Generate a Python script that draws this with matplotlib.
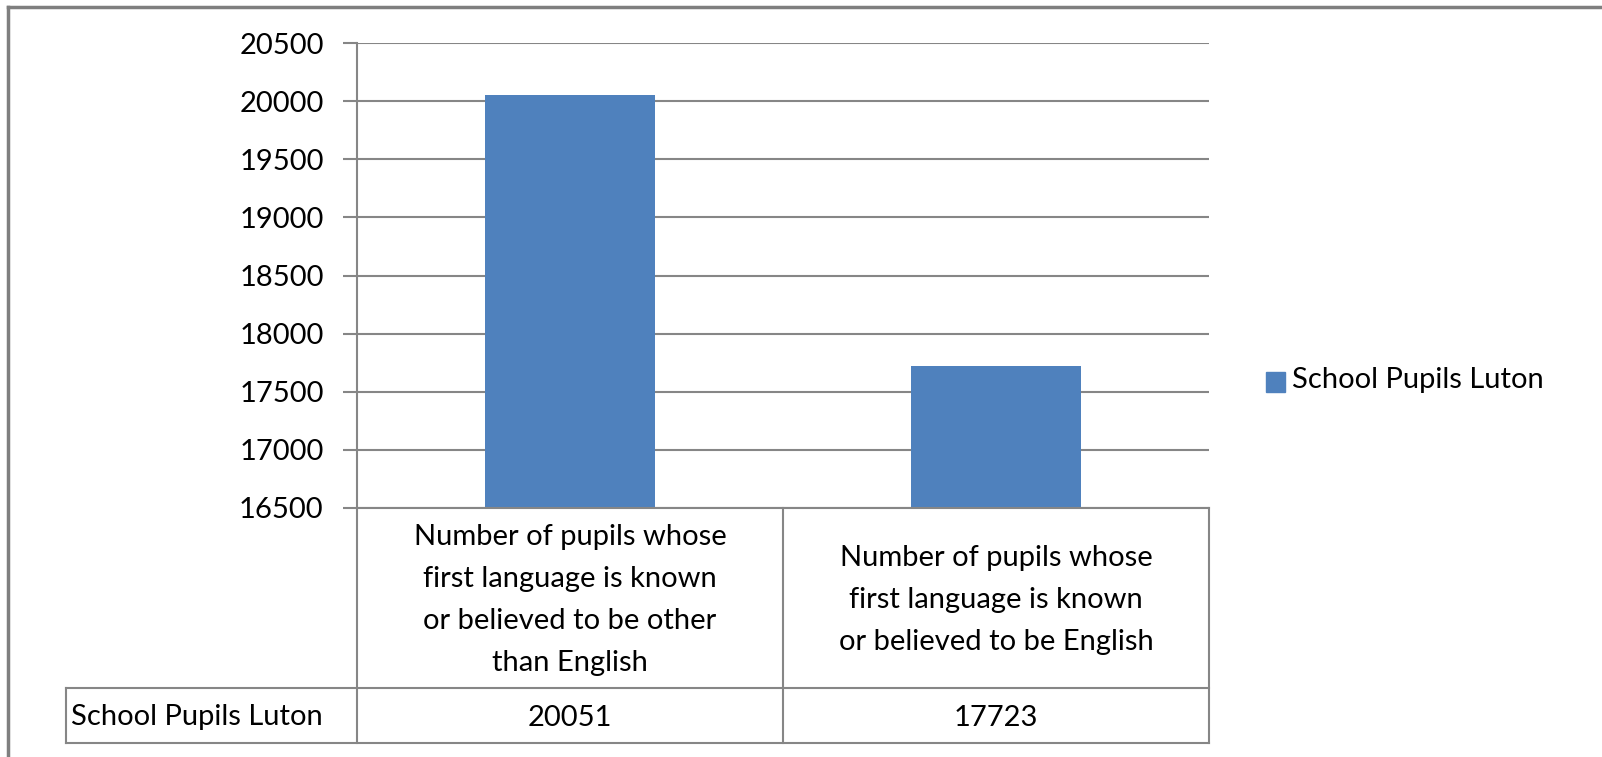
import matplotlib.pyplot as plt
from matplotlib.lines import Line2D
from matplotlib.patches import Rectangle

# --- data ---
categories = [
    "Number of pupils whose\nfirst language is known\nor believed to be other\nthan English",
    "Number of pupils whose\nfirst language is known\nor believed to be English",
]
values = [20051, 17723]
series_name = "School Pupils Luton"
y_ticks = [16500, 17000, 17500, 18000, 18500, 19000, 19500, 20000, 20500]

BAR_COLOR = "#4F81BD"
GRID_COLOR = "#868686"
FONT = "Lato"
FS = 21

W, H = 1602, 757
fig = plt.figure(figsize=(W / 100, H / 100), dpi=100)

# plot area in pixels (left, top, right, bottom)
L, T, R, B = 357, 43, 1209, 508
ax = fig.add_axes([L / W, 1 - B / H, (R - L) / W, (B - T) / H])

x = list(range(len(categories)))
ax.bar(x, values, width=0.4, color=BAR_COLOR, zorder=3)
ax.set_xlim(-0.5, len(categories) - 0.5)
ax.set_ylim(y_ticks[0], y_ticks[-1])
ax.set_yticks(y_ticks)
ax.set_yticklabels([str(v) for v in y_ticks], fontsize=FS, family=FONT)
ax.set_xticks([])
ax.grid(axis="y", color=GRID_COLOR, linewidth=1.5, zorder=0)
ax.tick_params(axis="y", length=10, width=1.5, color=GRID_COLOR, pad=14)
for s in ["top", "right", "bottom"]:
    ax.spines[s].set_visible(False)
ax.spines["left"].set_color(GRID_COLOR)
ax.spines["left"].set_linewidth(1.5)

# --- overlay in pixel coordinates for table, legend and frame ---
ov = fig.add_axes([0, 0, 1, 1])
ov.set_xlim(0, W)
ov.set_ylim(H, 0)
ov.axis("off")
ov.set_zorder(5)
ov.patch.set_alpha(0)

row1_bot, row2_bot, label_left = 688, 743, 66
col_edges = [L + (R - L) * i / len(categories) for i in range(len(categories) + 1)]

def hline(x0, x1, y, c=GRID_COLOR, lw=1.5):
    ov.add_line(Line2D([x0, x1], [y, y], color=c, linewidth=lw))

def vline(x0, y0, y1, c=GRID_COLOR, lw=1.5):
    ov.add_line(Line2D([x0, x0], [y0, y1], color=c, linewidth=lw))

# table grid
hline(L, R, B)
hline(label_left, R, row1_bot)
hline(label_left, R, row2_bot)
vline(L, B, row2_bot)
vline(label_left, row1_bot, row2_bot)
for xe in col_edges[1:]:
    vline(xe, B, row2_bot)

# category labels and values
for i, (cat, val) in enumerate(zip(categories, values)):
    cx = (col_edges[i] + col_edges[i + 1]) / 2
    ov.text(cx, (B + row1_bot) / 2 + 2, cat, ha="center", va="center",
            fontsize=FS, family=FONT, linespacing=1.75)
    ov.text(cx, (row1_bot + row2_bot) / 2 + 2, str(val), ha="center", va="center",
            fontsize=FS, family=FONT)
ov.text(label_left + 5, (row1_bot + row2_bot) / 2 + 2, series_name, ha="left", va="center",
        fontsize=FS, family=FONT)

# legend
ov.add_patch(Rectangle((1266, 372), 19, 20, color=BAR_COLOR))
ov.text(1292, 380, series_name, ha="left", va="center", fontsize=FS, family=FONT)

# outer chart frame (top and left visible)
hline(8, W, 7, c="#7f7f7f", lw=2.5)
vline(8, 7, H, c="#7f7f7f", lw=2.5)

fig.savefig("out.png", dpi=100)
